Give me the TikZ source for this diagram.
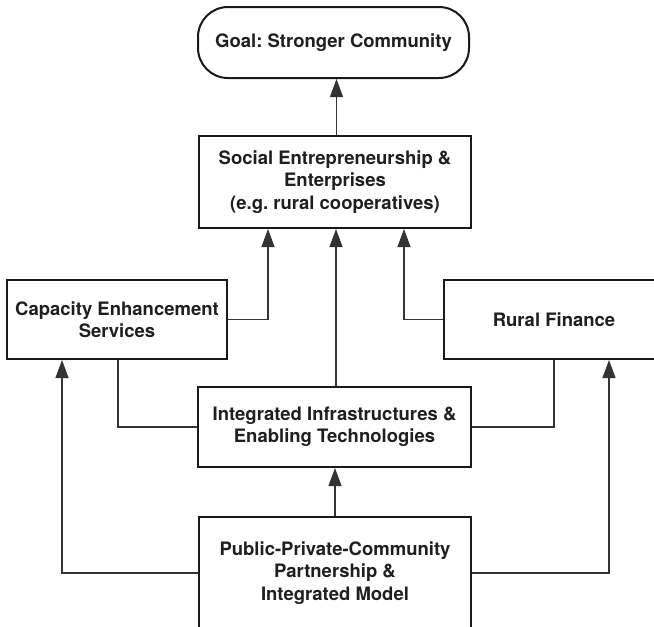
\documentclass[tikz,border=0pt]{standalone}
\usepackage{fontspec}
\setmainfont{TeX Gyre Heros}
\frenchspacing
\usetikzlibrary{arrows.meta,calc}
\begin{document}
\begin{tikzpicture}[x=1pt,y=-1pt,
  box/.style={draw=black!90,line width=2pt,fill=white,inner sep=0pt,align=center,
    font=\fontsize{18.5}{22.5}\selectfont\bfseries,text=black!88},
  conn/.style={draw=black!80,line width=1.1pt},
  arrowconn/.style={conn,-{Triangle[length=18pt,width=13pt]}}]
\useasboundingbox (0,0) rectangle (654,627);
\clip (0,0) rectangle (654,627);

% boxes
\node[box,rounded corners=30pt,minimum width=271pt,minimum height=71pt] (goal) at (333.5,42.5) {Goal: Stronger Community};
\node[box,minimum width=272pt,minimum height=92pt] (social) at (335,182) {Social Entrepreneurship \&\\Enterprises\\(e.g. rural cooperatives)};
\node[box,minimum width=220pt,minimum height=79pt] (cap) at (117,319.5) {Capacity Enhancement\\Services};
\node[box,minimum width=220pt,minimum height=79pt] (rural) at (554,319.5) {Rural Finance};
\node[box,minimum width=273pt,minimum height=80pt] (integ) at (334.5,427) {Integrated Infrastructures \&\\Enabling Technologies};
\node[box,minimum width=272pt,minimum height=112pt] (ppc) at (335,573) {Public-Private-Community\\Partnership \&\\Integrated Model};

% connectors
\draw[arrowconn] ([xshift=1.5pt]social.north) -- ([xshift=1.5pt]social.north |- goal.south);
\draw[arrowconn] (cap.east) -| ([xshift=-67pt]social.south);
\draw[arrowconn] ([xshift=1.5pt]integ.north) -- ([xshift=1.5pt]integ.north |- social.south);
\draw[arrowconn] (rural.west) -| ([xshift=69pt]social.south);
\draw[conn] ([xshift=1pt]cap.south) |- (integ.west);
\draw[conn] (rural.south) |- (integ.east);
\draw[arrowconn] (ppc.north) -- (ppc.north |- integ.south);
\draw[arrowconn] (ppc.west) -| ([xshift=56pt]cap.south west);
\draw[arrowconn] (ppc.east) -| ([xshift=166pt]rural.south west);
\end{tikzpicture}
\end{document}
